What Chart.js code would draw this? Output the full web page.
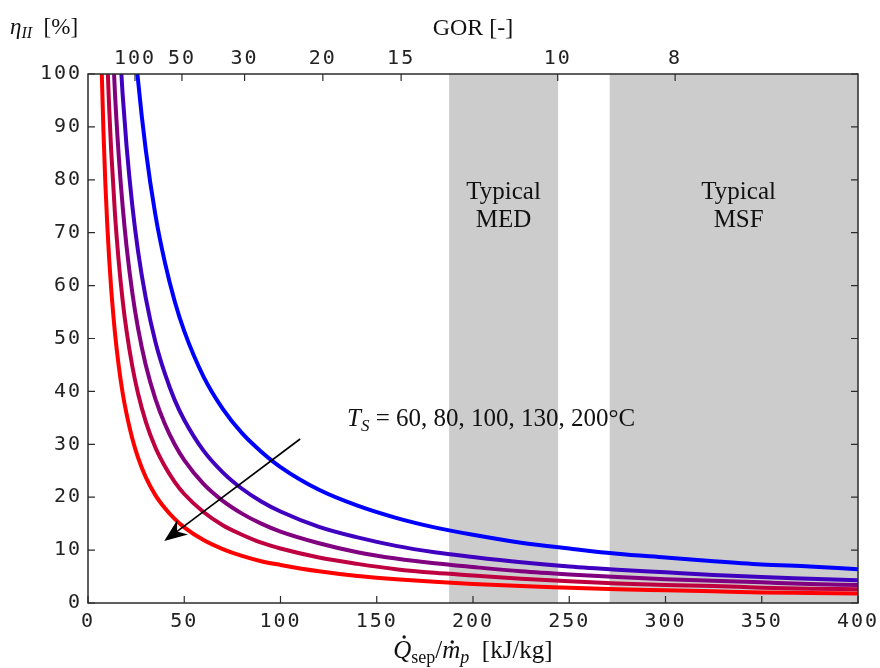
<!DOCTYPE html>
<html>
<head>
<meta charset="utf-8">
<script src="https://cdn.jsdelivr.net/npm/chart.js@4.4.1/dist/chart.umd.min.js"></script>
<style>
  html, body { margin: 0; padding: 0; background: #fff; }
  #wrap { width: 880px; height: 668px; position: relative; }
</style>
</head>
<body>
<div id="wrap"><canvas id="eta"></canvas></div>
<script>
// heat input per kg product [kJ/kg]
const qSep = [6, 7, 8, 9, 10, 11, 12, 14, 16, 18, 20, 23, 26, 30, 35, 40, 45, 50, 60, 70, 80, 90, 100,
  120, 140, 160, 180, 200, 225, 250, 275, 300, 325, 350, 375, 400];

// second-law efficiency [%] for each source temperature
const eta60 = [null, null, null, null, null, null, null, null, null, null, null, 111.7, 98.8, 85.7, 73.4, 64.3, 57.1, 51.4, 42.8, 36.7, 32.1, 28.6, 25.7,
  21.4, 18.4, 16.1, 14.3, 12.9, 11.4, 10.3, 9.3, 8.6, 7.9, 7.3, 6.9, 6.4];
const eta80 = [null, null, null, null, null, null, null, null, 108.1, 96.1, 86.5, 75.2, 66.5, 57.7, 49.4, 43.3, 38.4, 34.6, 28.8, 24.7, 21.6, 19.2, 17.3,
  14.4, 12.4, 10.8, 9.6, 8.7, 7.7, 6.9, 6.3, 5.8, 5.3, 4.9, 4.6, 4.3];
const eta100 = [null, null, null, null, null, null, 112.5, 96.4, 84.4, 75.0, 67.5, 58.7, 51.9, 45.0, 38.6, 33.8, 30.0, 27.0, 22.5, 19.3, 16.9, 15.0, 13.5,
  11.3, 9.6, 8.4, 7.5, 6.8, 6.0, 5.4, 4.9, 4.5, 4.2, 3.9, 3.6, 3.4];
const eta130 = [null, null, null, 114.4, 103.0, 93.6, 85.8, 73.6, 64.4, 57.2, 51.5, 44.8, 39.6, 34.3, 29.4, 25.8, 22.9, 20.6, 17.2, 14.7, 12.9, 11.4, 10.3,
  8.6, 7.4, 6.4, 5.7, 5.2, 4.6, 4.1, 3.7, 3.4, 3.2, 2.9, 2.7, 2.6];
const eta200 = [119.2, 102.1, 89.4, 79.4, 71.5, 65.0, 59.6, 51.1, 44.7, 39.7, 35.8, 31.1, 27.5, 23.8, 20.4, 17.9, 15.9, 14.3, 11.9, 10.2, 8.9, 7.9, 7.2,
  6.0, 5.1, 4.5, 4.0, 3.6, 3.2, 2.9, 2.6, 2.4, 2.2, 2.0, 1.9, 1.8];

const sourceTemps = [60, 80, 100, 130, 200];
const etaSeries = [eta60, eta80, eta100, eta130, eta200];
const lineColors = ['#0000ff', '#4000bf', '#800080', '#bf0040', '#ff0000'];

// top axis: GOR ticks, converted with latent heat [kJ/kg]
const gorTicks = [100, 50, 30, 20, 15, 10, 8];
const latentHeat = 2440;

// shaded ranges on the Q axis
const bandNames = ['MED', 'MSF'];
const bandFrom = [187.6, 271];
const bandTo = [244.2, 400];
const bandLabelAt = [215.9, 338];

const serif = '"Liberation Serif", "Times New Roman", serif';
const mono = '"DejaVu Sans Mono", monospace';

const runs = (ctx, parts, x, y, align) => {
  let w = 0;
  parts.forEach(p => { ctx.font = p.font; p.w = ctx.measureText(p.t).width; w += p.w; });
  let cx = align === 'center' ? x - w / 2 : x;
  parts.forEach(p => {
    ctx.font = p.font;
    ctx.fillText(p.t, cx, y + (p.dy || 0));
    if (p.dot) {
      ctx.beginPath();
      ctx.arc(cx + p.w * p.dot[0], y - p.dot[1], 1.7, 0, Math.PI * 2);
      ctx.fill();
    }
    cx += p.w;
  });
};

const decor = {
  id: 'decor',
  beforeDraw(chart) {
    // wide spacing of the tick digits
    chart.ctx.letterSpacing = '2px';
  },
  beforeDatasetsDraw(chart) {
    const { ctx, chartArea: a, scales: { x } } = chart;
    ctx.save();
    ctx.letterSpacing = '0px';
    ctx.fillStyle = '#cccccc';
    bandFrom.forEach((f, i) => {
      const l = x.getPixelForValue(f), r = x.getPixelForValue(bandTo[i]);
      ctx.fillRect(l, a.top, r - l, a.bottom - a.top);
    });
    ctx.fillStyle = '#111';
    ctx.textAlign = 'center';
    ctx.textBaseline = 'alphabetic';
    ctx.font = '25px ' + serif;
    const { y } = chart.scales;
    bandNames.forEach((n, i) => {
      const px = x.getPixelForValue(bandLabelAt[i]);
      ctx.fillText('Typical', px, y.getPixelForValue(76.4));
      ctx.fillText(n, px, y.getPixelForValue(71.0));
    });
    ctx.restore();
  },
  afterDatasetsDraw(chart) {
    const { ctx, chartArea: a, scales: { x, y, x2 } } = chart;
    ctx.save();
    ctx.letterSpacing = '0px';
    // arrow
    const x0 = x.getPixelForValue(110.2), y0 = y.getPixelForValue(31.0);
    const x1 = x.getPixelForValue(39.6), y1 = y.getPixelForValue(11.7);
    const ang = Math.atan2(y1 - y0, x1 - x0);
    ctx.strokeStyle = '#000';
    ctx.fillStyle = '#000';
    ctx.lineWidth = 1.6;
    ctx.beginPath();
    ctx.moveTo(x0, y0);
    ctx.lineTo(x1 - 12 * Math.cos(ang), y1 - 12 * Math.sin(ang));
    ctx.stroke();
    ctx.translate(x1, y1);
    ctx.rotate(ang);
    ctx.beginPath();
    ctx.moveTo(0, 0);
    ctx.lineTo(-23, -9);
    ctx.lineTo(-16, 0);
    ctx.lineTo(-23, 9);
    ctx.closePath();
    ctx.fill();
    ctx.setTransform(1, 0, 0, 1, 0, 0);

    // T_S annotation
    ctx.fillStyle = '#111';
    ctx.textBaseline = 'alphabetic';
    runs(ctx, [
      { t: 'T', font: 'italic 25px ' + serif },
      { t: 'S', font: 'italic 17px ' + serif, dy: 5 },
      { t: ' = ' + sourceTemps.join(', ') + '°C', font: '25px ' + serif }
    ], x.getPixelForValue(134.6), y.getPixelForValue(33.5), 'left');

    // frame
    ctx.strokeStyle = '#2b2b2b';
    ctx.lineWidth = 1.5;
    ctx.strokeRect(a.left, a.top, a.right - a.left, a.bottom - a.top);
    // inward ticks
    ctx.lineWidth = 1.2;
    ctx.beginPath();
    y.ticks.forEach(t => {
      const py = y.getPixelForValue(t.value);
      ctx.moveTo(a.left, py); ctx.lineTo(a.left + 7, py);
      ctx.moveTo(a.right, py); ctx.lineTo(a.right - 7, py);
    });
    x.ticks.forEach(t => {
      const px = x.getPixelForValue(t.value);
      ctx.moveTo(px, a.bottom); ctx.lineTo(px, a.bottom - 7);
    });
    x2.ticks.forEach(t => {
      const px = x2.getPixelForValue(t.value);
      ctx.moveTo(px, a.top); ctx.lineTo(px, a.top + 7);
    });
    ctx.stroke();

    // axis titles
    ctx.fillStyle = '#111';
    const cxm = (a.left + a.right) / 2;
    ctx.textAlign = 'center';
    ctx.font = '24px ' + serif;
    ctx.fillText('GOR [-]', cxm, 35);
    ctx.textAlign = 'left';
    runs(ctx, [
      { t: 'η', font: 'italic 23px ' + serif },
      { t: 'II', font: 'italic 16px ' + serif, dy: 4 },
      { t: '  [%]', font: '23px ' + serif }
    ], 10, 34, 'left');
    runs(ctx, [
      { t: 'Q', font: 'italic 25px ' + serif, dot: [0.6, 21] },
      { t: 'sep', font: '18px ' + serif, dy: 5 },
      { t: '/', font: '25px ' + serif },
      { t: 'm', font: 'italic 25px ' + serif, dot: [0.55, 16] },
      { t: 'p', font: 'italic 18px ' + serif, dy: 5 },
      { t: '  [kJ/kg]', font: '25px ' + serif }
    ], cxm, 658, 'center');
    ctx.restore();
  },
  afterDraw(chart) {
    chart.ctx.letterSpacing = '0px';
  }
};

const datasets = etaSeries.map((vals, i) => ({
  label: sourceTemps[i] + ' °C',
  data: qSep.map((q, j) => ({ x: q, y: vals[j] })),
  borderColor: lineColors[i],
  borderWidth: 4,
  pointRadius: 0,
  fill: false,
  cubicInterpolationMode: 'monotone',
  spanGaps: false
}));

const tickFont = { family: mono, size: 20 };
const noOverhang = s => { s.paddingLeft = 0; s.paddingRight = 0; };

new Chart(document.getElementById('eta'), {
  type: 'line',
  data: { datasets },
  plugins: [decor],
  options: {
    responsive: true,
    maintainAspectRatio: false,
    animation: false,
    layout: { padding: { left: 0, right: 22, top: 0, bottom: 0 } },
    plugins: { legend: { display: false }, tooltip: { enabled: false } },
    scales: {
      x: {
        type: 'linear', position: 'bottom', min: 0, max: 400,
        ticks: { stepSize: 50, padding: 7, color: '#222', font: tickFont, maxRotation: 0 },
        grid: { display: false, drawTicks: false },
        border: { display: false },
        afterFit: s => { s.height = 65; noOverhang(s); }
      },
      x2: {
        type: 'linear', position: 'top', min: 0, max: 400,
        afterBuildTicks: s => { s.ticks = gorTicks.map(g => ({ value: latentHeat / g })); },
        ticks: {
          padding: 3, color: '#222', font: tickFont, maxRotation: 0, autoSkip: false,
          callback: (v, i) => gorTicks[i]
        },
        grid: { display: false, drawTicks: false },
        border: { display: false },
        afterFit: s => { s.height = 74; noOverhang(s); }
      },
      y: {
        type: 'linear', min: 0, max: 100,
        ticks: { stepSize: 10, padding: 6, color: '#222', font: tickFont },
        grid: { display: false, drawTicks: false },
        border: { display: false },
        afterFit: s => { s.width = 88; s.paddingTop = 0; s.paddingBottom = 0; }
      }
    }
  }
});
</script>
</body>
</html>
